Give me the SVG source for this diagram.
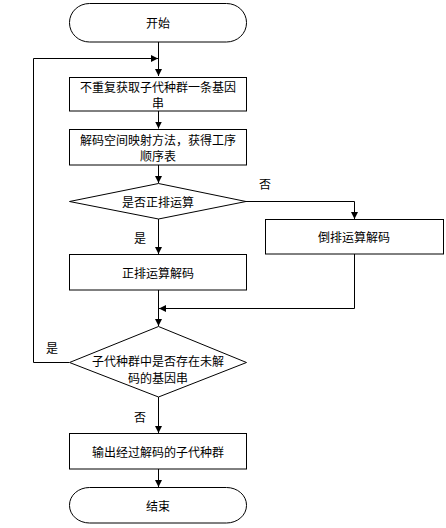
<svg xmlns="http://www.w3.org/2000/svg" width="446" height="528" viewBox="0 0 446 528">
<style>
.s{fill:#fff;stroke:#000;stroke-width:1}
.t{font-family:"Noto Sans CJK SC","Noto Sans CJK JP",sans-serif;font-size:12px;fill:#000;text-anchor:middle;dominant-baseline:central}
.c{fill:none;stroke:#000;stroke-width:1}
</style>
<defs>
<marker id="a" markerUnits="userSpaceOnUse" markerWidth="8" markerHeight="8" refX="7" refY="4" orient="auto">
<path d="M0,0.5 L7,4 L0,7.5 Z" fill="#000"/>
</marker>
</defs>
<rect width="446" height="528" fill="#fff"/>
<g id="connectors">
<path class="c" d="M158.5,42 V76" marker-end="url(#a)"/>
<path class="c" d="M69,362.5 H33.5 V58.5 H158" marker-end="url(#a)"/>
<path class="c" d="M158.5,111 V128.5" marker-end="url(#a)"/>
<path class="c" d="M158.5,165 V183" marker-end="url(#a)"/>
<path class="c" d="M246,201.5 H354.5 V219" marker-end="url(#a)"/>
<path class="c" d="M158.5,219 V254" marker-end="url(#a)"/>
<path class="c" d="M354.5,254 V308.5 H159" marker-end="url(#a)"/>
<path class="c" d="M158.5,290 V326" marker-end="url(#a)"/>
<path class="c" d="M158.5,397 V433" marker-end="url(#a)"/>
<path class="c" d="M158.5,469 V487" marker-end="url(#a)"/>
<text class="t" x="265" y="183">否</text>
<text class="t" x="140" y="237">是</text>
<text class="t" x="52" y="347">是</text>
<text class="t" x="140" y="416">否</text>
</g>
<g id="start">
<rect class="s" x="69.5" y="3.5" width="177" height="38.5" rx="20" ry="19"/>
<text class="t" x="158" y="22">开始</text>
</g>
<g id="fetch">
<rect class="s" x="69.5" y="77.5" width="177" height="33.5"/>
<text class="t" x="158" y="86">不重复获取子代种群一条基因</text>
<text class="t" x="158" y="102">串</text>
</g>
<g id="map">
<rect class="s" x="69.5" y="129.5" width="177" height="35.5"/>
<text class="t" x="158" y="139">解码空间映射方法，获得工序</text>
<text class="t" x="158" y="155.5">顺序表</text>
</g>
<g id="decision1">
<polygon class="s" points="158.5,183.5 246,201.5 158.5,219 69.5,201.5"/>
<text class="t" x="158" y="201">是否正排运算</text>
</g>
<g id="reverse">
<rect class="s" x="265.5" y="219.5" width="178" height="34.5"/>
<text class="t" x="354" y="236">倒排运算解码</text>
</g>
<g id="forward">
<rect class="s" x="69.5" y="254.5" width="177" height="35.5"/>
<text class="t" x="158" y="272">正排运算解码</text>
</g>
<g id="decision2">
<polygon class="s" points="158.5,326.5 246.5,362.5 158.5,397 69.5,362.5"/>
<text class="t" x="158" y="360.5">子代种群中是否存在未解</text>
<text class="t" x="158" y="377">码的基因串</text>
</g>
<g id="output">
<rect class="s" x="69.5" y="433.5" width="177" height="35.5"/>
<text class="t" x="158" y="451">输出经过解码的子代种群</text>
</g>
<g id="end">
<rect class="s" x="69.5" y="487.5" width="177" height="35.5" rx="20" ry="17.5"/>
<text class="t" x="158" y="505">结束</text>
</g>
</svg>
